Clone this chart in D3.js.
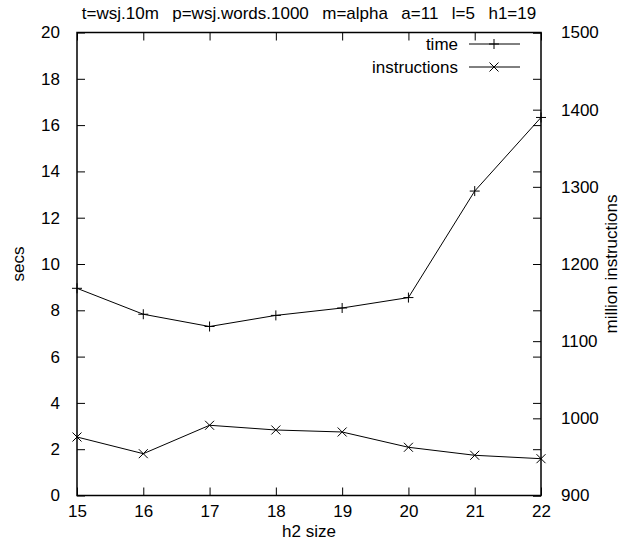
<!DOCTYPE html>
<html>
<head>
<meta charset="utf-8">
<script src="https://cdn.jsdelivr.net/npm/d3@7"></script>
<style>
  body { margin: 0; background: #fff; }
  text { font-family: "Liberation Sans", Arial, sans-serif; font-size: 17px; fill: #000; white-space: pre; }
</style>
</head>
<body>
<script>
const title = 't=wsj.10m  p=wsj.words.1000  m=alpha  a=11  l=5  h1=19';
const h2Sizes = [15, 16, 17, 18, 19, 20, 21, 22];
const timeSecs = [8.95, 7.83, 7.3, 7.78, 8.1, 8.55, 13.15, 16.33];
const instructions = [975.8, 954.2, 991, 984.9, 982.3, 962.5, 952.1, 947.7];
const secsTicks = [0, 2, 4, 6, 8, 10, 12, 14, 16, 18, 20];
const instrTicks = [900, 1000, 1100, 1200, 1300, 1400, 1500];

const margin = { top: 32.5, right: 81, bottom: 45.5, left: 77 };
const W = 622, H = 541;
const width = W - margin.left - margin.right;
const height = H - margin.top - margin.bottom;
const tick = 8;

const svg = d3.select('body').append('svg')
    .attr('width', W)
    .attr('height', H);

const g = svg.append('g')
    .attr('transform', `translate(${margin.left}, ${margin.top})`);

const x = d3.scaleLinear().domain([15, 22]).range([0, width]);
const y = d3.scaleLinear().domain([0, 20]).range([height, 0]);
const y2 = d3.scaleLinear().domain([900, 1500]).range([height, 0]);

// inward ticks, gnuplot style
function ticksOn(axis, sel) {
    sel.call(axis);
    sel.attr('font-size', null).attr('font-family', null);
    sel.select('.domain').remove();
    sel.selectAll('line').attr('stroke', '#000').attr('stroke-width', 1);
    sel.selectAll('text').attr('fill', '#000');
}

// bottom x axis with labels
ticksOn(d3.axisBottom(x).tickValues(h2Sizes).tickSize(-tick).tickPadding(9).tickFormat(d3.format('d')),
    g.append('g').attr('transform', `translate(0, ${height})`));
// top mirror
ticksOn(d3.axisTop(x).tickValues(h2Sizes).tickSize(-tick).tickFormat(''), g.append('g'));
// left y axis
ticksOn(d3.axisLeft(y).tickValues(secsTicks).tickSize(-tick).tickPadding(17),
    g.append('g'));
// right mirror of y
ticksOn(d3.axisRight(y).tickValues(secsTicks).tickSize(-tick).tickFormat(''),
    g.append('g').attr('transform', `translate(${width}, 0)`));
// right y2 axis
ticksOn(d3.axisRight(y2).tickValues(instrTicks).tickSize(-tick).tickPadding(20).tickFormat(d3.format('d')),
    g.append('g').attr('transform', `translate(${width}, 0)`));

// frame
g.append('rect')
    .attr('width', width)
    .attr('height', height)
    .attr('fill', 'none')
    .attr('stroke', '#000')
    .attr('stroke-width', 1.5);

const timeLine = d3.line().x((d, i) => x(h2Sizes[i])).y(d => y(d));
const instrLine = d3.line().x((d, i) => x(h2Sizes[i])).y(d => y2(d));

function plus(sel) {
    return sel.attr('d', 'M-5,0H5M0,-5V5');
}
function cross(sel) {
    return sel.attr('d', 'M-4.5,-4.5L4.5,4.5M-4.5,4.5L4.5,-4.5');
}

g.append('path')
    .datum(timeSecs)
    .attr('d', timeLine)
    .attr('fill', 'none')
    .attr('stroke', '#000')
    .attr('stroke-width', 1);

g.selectAll('.pt-time').data(timeSecs).enter()
    .append('path')
    .attr('class', 'pt-time')
    .attr('transform', (d, i) => `translate(${x(h2Sizes[i])}, ${y(d)})`)
    .call(plus)
    .attr('stroke', '#000')
    .attr('stroke-width', 1);

g.append('path')
    .datum(instructions)
    .attr('d', instrLine)
    .attr('fill', 'none')
    .attr('stroke', '#000')
    .attr('stroke-width', 1);

g.selectAll('.pt-instr').data(instructions).enter()
    .append('path')
    .attr('class', 'pt-instr')
    .attr('transform', (d, i) => `translate(${x(h2Sizes[i])}, ${y2(d)})`)
    .call(cross)
    .attr('stroke', '#000')
    .attr('stroke-width', 1);

// legend
const legend = [
    { name: 'time', mark: plus },
    { name: 'instructions', mark: cross }
];
legend.forEach((l, i) => {
    const ly = 11.5 + i * 23;
    g.append('text')
        .attr('x', width - 83)
        .attr('y', ly)
        .attr('dy', '0.35em')
        .attr('text-anchor', 'end')
        .text(l.name);
    g.append('line')
        .attr('x1', width - 72).attr('x2', width - 21)
        .attr('y1', ly).attr('y2', ly)
        .attr('stroke', '#000');
    g.append('path')
        .attr('transform', `translate(${width - 47}, ${ly})`)
        .call(l.mark)
        .attr('stroke', '#000');
});

// titles
svg.append('text')
    .attr('x', 309)
    .attr('y', 19)
    .attr('text-anchor', 'middle')
    .style('word-spacing', '2px')
    .text(title);

svg.append('text')
    .attr('x', margin.left + width / 2)
    .attr('y', 537)
    .attr('text-anchor', 'middle')
    .text('h2 size');

svg.append('text')
    .attr('transform', `translate(24, ${margin.top + height / 2}) rotate(-90)`)
    .attr('text-anchor', 'middle')
    .text('secs');

svg.append('text')
    .attr('transform', `translate(617, ${margin.top + height / 2}) rotate(-90)`)
    .attr('text-anchor', 'middle')
    .text('million instructions');
</script>
</body>
</html>
